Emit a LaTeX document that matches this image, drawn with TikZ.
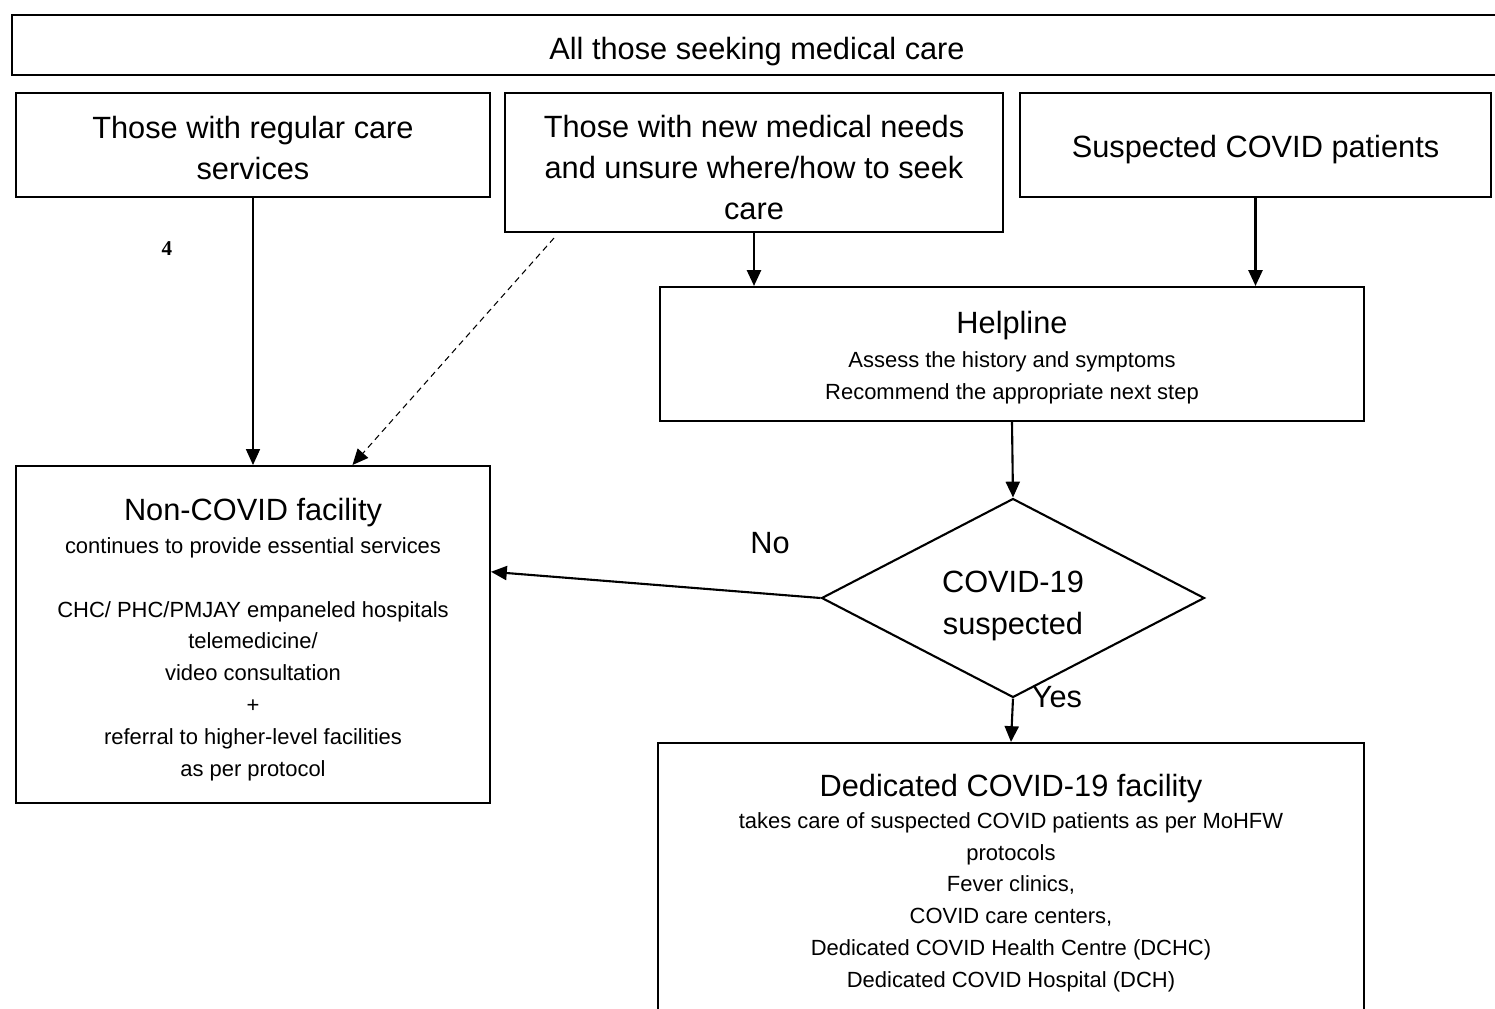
\documentclass[tikz,border=0pt]{standalone}
\usepackage{fontspec}
\setmainfont{Liberation Sans}
\newfontfamily\numfont{Liberation Serif}
\usetikzlibrary{shapes.geometric,arrows.meta,calc}
\newcommand{\headsize}{\fontsize{17.5}{23.3}\selectfont}
\newcommand{\textsz}{\fontsize{12.5}{18.1}\selectfont}
\newcommand{\padtop}[1]{\rule{0pt}{#1}}

\begin{document}
\begin{tikzpicture}[x=0.02cm,y=-0.02cm,
  box/.style={draw,line width=1.2pt,inner sep=0pt,align=center},
  flow/.style={-{Triangle[length=9pt,width=8pt]},line width=1.2pt},
  thinflow/.style={-{Triangle[length=9pt,width=8pt]},line width=0.6pt}]
\useasboundingbox (0,0) rectangle (1495,1008);
\clip (0,0) rectangle (1495,1008);
% top row
\node[box,line width=1.4pt,minimum width=29.8cm,minimum height=1.2cm,font=\headsize] (all) at (757,45) {\padtop{19.6pt}All those seeking medical care};
\node[box,minimum width=9.48cm,minimum height=2.08cm,font=\headsize] (regular) at (253,145) {\padtop{15.6pt}Those with regular care\\services};
\node[box,minimum width=9.96cm,minimum height=2.78cm,font=\headsize] (new) at (754,162.5) {\padtop{18.4pt}Those with new medical needs\\and unsure where/how to seek\\care};
\node[box,minimum width=9.42cm,minimum height=2.08cm,font=\headsize] (suspect) at (1255.5,145) {\padtop{17.3pt}Suspected COVID patients};
\node[font=\numfont\bfseries\fontsize{12}{14}\selectfont] (num) at (167,249) {4};
% helpline and decision
\node[box,minimum width=14.08cm,minimum height=2.68cm,font=\textsz] (help) at (1012,354) {\padtop{16.8pt}{\headsize Helpline}\\[1pt]Assess the history and symptoms\\Recommend the appropriate next step};
\node[draw,diamond,line width=1.2pt,aspect=1.9,inner sep=0pt,minimum width=7.66cm,minimum height=3.98cm,align=center,font=\fontsize{17.5}{24}\selectfont] (check) at (1013,598) {\padtop{20.8pt}COVID-19\\suspected};
\node[font=\headsize] (no) at (770,543) {No};
\node[font=\headsize] (yes) at (1057,697) {Yes};
% facilities
\node[box,minimum width=9.48cm,minimum height=6.74cm,font=\textsz] (noncovid) at (253,634.5) {\padtop{18pt}{\headsize Non-COVID facility}\\[1pt]continues to provide essential services\\[18pt]CHC/ PHC/PMJAY empaneled hospitals\\telemedicine/\\video consultation\\+\\referral to higher-level facilities\\as per protocol};
\node[box,minimum width=14.12cm,minimum height=5.6cm,font=\textsz] (dedicated) at (1011,883) {{\headsize Dedicated COVID-19 facility}\\takes care of suspected COVID patients as per MoHFW\\protocols\\Fever clinics,\\COVID care centers,\\Dedicated COVID Health Centre (DCHC)\\Dedicated COVID Hospital (DCH)};
% arrows
\draw[thinflow] (regular.south) -- (noncovid.north);
\draw[thinflow,dash pattern=on 3.5pt off 2.5pt] ($(new.south west)!0.1!(new.south east)+(0,5)$) -- ($(noncovid.north west)!0.709!(noncovid.north east)$);
\draw[flow] (new.south) -- (new.south |- help.north);
\draw[flow] (suspect.south) -- (suspect.south |- help.north);
\draw[flow] (help.south) -- (check.north);
\draw[flow] (check.west) -- ($(noncovid.north east)!0.315!(noncovid.south east)$);
\draw[flow] (check.south) -- (dedicated.north);
\end{tikzpicture}
\end{document}
